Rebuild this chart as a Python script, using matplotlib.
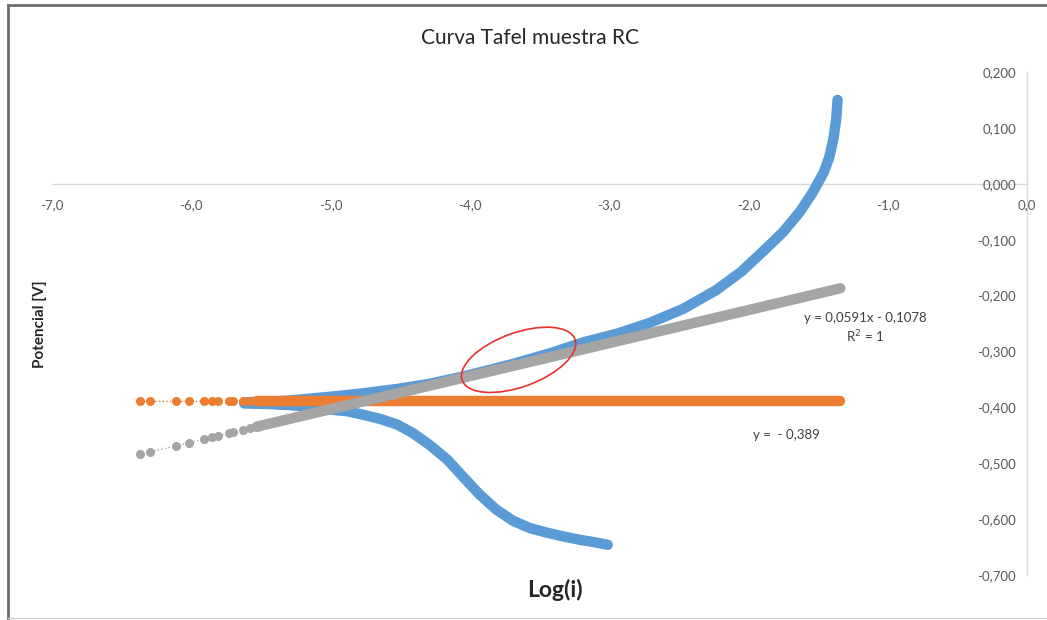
import matplotlib
matplotlib.use("Agg")
import matplotlib.pyplot as plt
from matplotlib.patches import Ellipse
from matplotlib.lines import Line2D
from matplotlib.transforms import ScaledTranslation
from matplotlib.ticker import FuncFormatter

plt.rcParams['font.family'] = ['Lato', 'DejaVu Sans']

# polarisation curve, anodic branch (log i, E)
anodic_log_i = [-5.62, -5.45, -5.30, -5.13, -5.00, -4.77, -4.52, -4.29, -4.05, -3.70,
                -3.42, -3.19, -2.94, -2.71, -2.47, -2.23, -2.05, -1.87, -1.75, -1.63,
                -1.54, -1.46, -1.42, -1.39, -1.37, -1.36]
anodic_e = [-0.391, -0.390, -0.388, -0.384, -0.381, -0.375, -0.367, -0.358, -0.345, -0.323,
            -0.303, -0.284, -0.268, -0.249, -0.224, -0.190, -0.157, -0.115, -0.086, -0.050,
            -0.016, 0.020, 0.047, 0.080, 0.115, 0.150]

# cathodic branch
cathodic_log_i = [-5.62, -5.45, -5.30, -5.13, -5.00, -4.88, -4.77, -4.64, -4.52, -4.41,
                  -4.29, -4.16, -4.05, -3.93, -3.81, -3.69, -3.57, -3.45, -3.33, -3.21,
                  -3.09, -3.01]
cathodic_e = [-0.393, -0.394, -0.396, -0.399, -0.404, -0.407, -0.413, -0.421, -0.431, -0.446,
              -0.467, -0.494, -0.524, -0.556, -0.583, -0.603, -0.616, -0.624, -0.631, -0.637,
              -0.642, -0.646]

# first readings (spread out) and last reading of the log(i) column
log_i_sparse = [-6.37, -6.30, -6.11, -6.02, -5.91, -5.85, -5.81, -5.73, -5.70, -5.63, -5.58, -5.53]
log_i_last = -1.34

# corrosion potential and Tafel fit
e_corr = -0.389
slope = 0.0591
intercept = -0.1078

x_ticks = [-7.0, -6.0, -5.0, -4.0, -3.0, -2.0, -1.0, 0.0]
y_ticks = [-0.7, -0.6, -0.5, -0.4, -0.3, -0.2, -0.1, 0.0, 0.1, 0.2]

blue = '#5B9BD5'
orange = '#ED7D31'
gray = '#A5A5A5'

W, H = 1047, 620
fig = plt.figure(figsize=(W / 100, H / 100), dpi=100)
ax = fig.add_axes([52 / W, 1 - 575 / H, 975 / W, 503 / H])

band = dict(lw=7.5, solid_capstyle='round', solid_joinstyle='round')
dots = dict(ls=':', lw=1, marker='o', ms=6.5, mec='none')

# experimental curve
ax.plot(anodic_log_i, anodic_e, color=blue, **band)
ax.plot(cathodic_log_i, cathodic_e, color=blue, **band)

# horizontal line at E_corr
dense = [log_i_sparse[-1], log_i_last]
ax.plot(log_i_sparse, [e_corr] * len(log_i_sparse), color=orange, **dots)
ax.plot(dense, [e_corr] * 2, color=orange, **band)

# Tafel line
ax.plot(log_i_sparse, [slope * x + intercept for x in log_i_sparse], color=gray, **dots)
ax.plot(dense, [slope * x + intercept for x in dense], color=gray, **band)

ax.set_xlim(-7, 0)
ax.set_ylim(-0.7, 0.2)
ax.set_xticks(x_ticks)
ax.set_yticks(y_ticks)
ax.xaxis.set_major_formatter(FuncFormatter(lambda v, p: f"{0.0 if abs(v) < 1e-9 else v:.1f}".replace('.', ',')))
ax.yaxis.set_major_formatter(FuncFormatter(lambda v, p: f"{0.0 if abs(v) < 1e-9 else v:.3f}".replace('.', ',')))

for s in ['top', 'right']:
    ax.spines[s].set_visible(False)
ax.spines['left'].set_position(('data', 0))
ax.spines['bottom'].set_position(('data', 0))
for s in ['left', 'bottom']:
    ax.spines[s].set_color('#d9d9d9')
    ax.spines[s].set_linewidth(1)
    ax.spines[s].set_zorder(0)
ax.tick_params(length=0, labelsize=9.5, colors='#595959')
ax.tick_params(axis='x', pad=11)
ax.tick_params(axis='y', pad=8)

# trendline labels
ax.text(-1.163, -0.240, 'y = 0,0591x - 0,1078', ha='center', va='center', fontsize=9.5, color='#404040')
ax.text(-1.163, -0.274, 'R$^2$ = 1', ha='center', va='center', fontsize=9.5, color='#404040')
ax.text(-1.73, -0.449, 'y =  - 0,389', ha='center', va='center', fontsize=9.5, color='#404040')

# highlight where the curve meets the Tafel line
trans = fig.dpi_scale_trans + ScaledTranslation(-3.65, -0.315, ax.transData)
ax.add_patch(Ellipse((0, 0), 1.2, 0.54, angle=20, transform=trans,
                     fill=False, edgecolor='#e8312f', lw=1.2, zorder=5))

fig.text(530 / W, 1 - 38 / H, 'Curva Tafel muestra RC', ha='center', va='center',
         fontsize=15, color='#262626')
fig.text(40 / W, 1 - 324 / H, 'Potencial [V]', rotation=90, ha='center', va='center',
         fontsize=11, fontweight='bold', color='#262626')
fig.text(555 / W, 1 - 590 / H, 'Log(i)', ha='center', va='center',
         fontsize=16.5, fontweight='bold', color='#262626')

# chart frame
fig.add_artist(Line2D([8 / W, 1], [1 - 5 / H, 1 - 5 / H], transform=fig.transFigure, color='#6e6e6e', lw=2))
fig.add_artist(Line2D([8 / W, 8 / W], [1 - 5 / H, 1 - 619 / H], transform=fig.transFigure, color='#6e6e6e', lw=2))
fig.add_artist(Line2D([8 / W, 1], [1 - 618 / H, 1 - 618 / H], transform=fig.transFigure, color='#d0d0d0', lw=1))

fig.savefig('out.png', dpi=100)
